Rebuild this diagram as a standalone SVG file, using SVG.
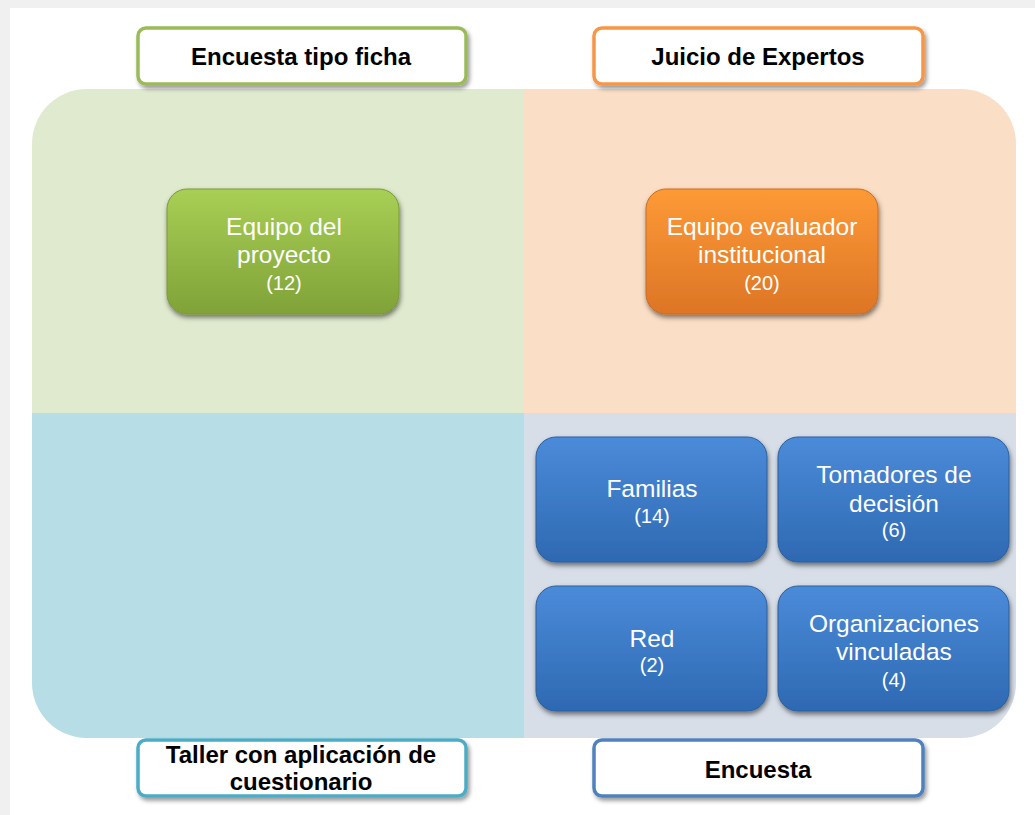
<svg xmlns="http://www.w3.org/2000/svg" width="1035" height="815" viewBox="0 0 1035 815">
<defs>
<style>
.title{font-family:"Liberation Sans",Arial,sans-serif;font-weight:bold;font-size:24px;fill:#000;text-anchor:middle}
.nt{font-family:"Liberation Sans",Arial,sans-serif;font-size:24.5px;fill:#fff;text-anchor:middle}
.nn{font-family:"Liberation Sans",Arial,sans-serif;font-size:20px;fill:#fff;text-anchor:middle}
.tbox{fill:#fff;stroke-width:3.5}
</style>
<linearGradient id="gG" x1="0" y1="0" x2="0" y2="1"><stop offset="0" stop-color="#a8cf55"/><stop offset="1" stop-color="#80a238"/></linearGradient>
<linearGradient id="gO" x1="0" y1="0" x2="0" y2="1"><stop offset="0" stop-color="#fd9a36"/><stop offset="1" stop-color="#dd7526"/></linearGradient>
<linearGradient id="gB" x1="0" y1="0" x2="0" y2="1"><stop offset="0" stop-color="#4b8bd9"/><stop offset="1" stop-color="#2e69b2"/></linearGradient>
<filter id="sh" x="-10%" y="-10%" width="125%" height="130%"><feDropShadow dx="1" dy="3" stdDeviation="2.5" flood-color="#000" flood-opacity="0.5"/></filter>
<filter id="sh2" x="-10%" y="-20%" width="125%" height="150%"><feDropShadow dx="2" dy="3" stdDeviation="2" flood-color="#000" flood-opacity="0.4"/></filter>
<clipPath id="cp"><rect x="32" y="89" width="984" height="649" rx="55" ry="55"/></clipPath>
</defs>
<rect x="0" y="0" width="1035" height="815" fill="#fff"/>
<rect x="0" y="0" width="1035" height="8" fill="#f0f0f0"/>
<rect x="0" y="0" width="10" height="815" fill="#f0f0f0"/>
<g id="quadrants" clip-path="url(#cp)">
<rect x="32" y="89" width="492" height="324" fill="#e0eacf"/>
<rect x="524" y="89" width="492" height="324" fill="#fadec5"/>
<rect x="32" y="413" width="492" height="325" fill="#b7dde6"/>
<rect x="524" y="413" width="492" height="325" fill="#d7dee8"/>
</g>
<g id="connectors"></g>
<g id="t-ficha"><rect class="tbox" x="138" y="28" width="328" height="56" rx="8" stroke="#9bbb59" filter="url(#sh2)"/><text class="title" x="301" y="65">Encuesta tipo ficha</text></g>
<g id="t-juicio"><rect class="tbox" x="594" y="28" width="329" height="56" rx="8" stroke="#f79646" filter="url(#sh2)"/><text class="title" x="758" y="65">Juicio de Expertos</text></g>
<g id="t-taller"><rect class="tbox" x="138" y="740" width="328" height="56" rx="8" stroke="#4bacc6" filter="url(#sh2)"/><text class="title" x="301" y="763">Taller con aplicación de</text><text class="title" x="301" y="790">cuestionario</text></g>
<g id="t-encuesta"><rect class="tbox" x="594" y="740" width="329" height="56" rx="8" stroke="#4f81bd" filter="url(#sh2)"/><text class="title" x="758" y="778">Encuesta</text></g>
<g id="n-equipo-proyecto"><rect x="167" y="189" width="232" height="125" rx="20" fill="url(#gG)" stroke="#7a9a36" stroke-width="1" filter="url(#sh)"/><text class="nt" x="284" y="235">Equipo del</text><text class="nt" x="284" y="263">proyecto</text><text class="nn" x="284" y="290">(12)</text></g>
<g id="n-equipo-evaluador"><rect x="646" y="189" width="232" height="125" rx="20" fill="url(#gO)" stroke="#c96d22" stroke-width="1" filter="url(#sh)"/><text class="nt" x="762" y="235">Equipo evaluador</text><text class="nt" x="762" y="263">institucional</text><text class="nn" x="762" y="290">(20)</text></g>
<g id="n-familias"><rect x="536" y="437" width="231" height="125" rx="20" fill="url(#gB)" stroke="#2b5f9f" stroke-width="1" filter="url(#sh)"/><text class="nt" x="652" y="497">Familias</text><text class="nn" x="652" y="523">(14)</text></g>
<g id="n-tomadores"><rect x="778" y="437" width="231" height="125" rx="20" fill="url(#gB)" stroke="#2b5f9f" stroke-width="1" filter="url(#sh)"/><text class="nt" x="894" y="483">Tomadores de</text><text class="nt" x="894" y="512">decisión</text><text class="nn" x="894" y="537">(6)</text></g>
<g id="n-red"><rect x="536" y="586" width="231" height="125" rx="20" fill="url(#gB)" stroke="#2b5f9f" stroke-width="1" filter="url(#sh)"/><text class="nt" x="652" y="647">Red</text><text class="nn" x="652" y="672">(2)</text></g>
<g id="n-organizaciones"><rect x="778" y="586" width="231" height="125" rx="20" fill="url(#gB)" stroke="#2b5f9f" stroke-width="1" filter="url(#sh)"/><text class="nt" x="894" y="632">Organizaciones</text><text class="nt" x="894" y="660">vinculadas</text><text class="nn" x="894" y="687">(4)</text></g>
</svg>
